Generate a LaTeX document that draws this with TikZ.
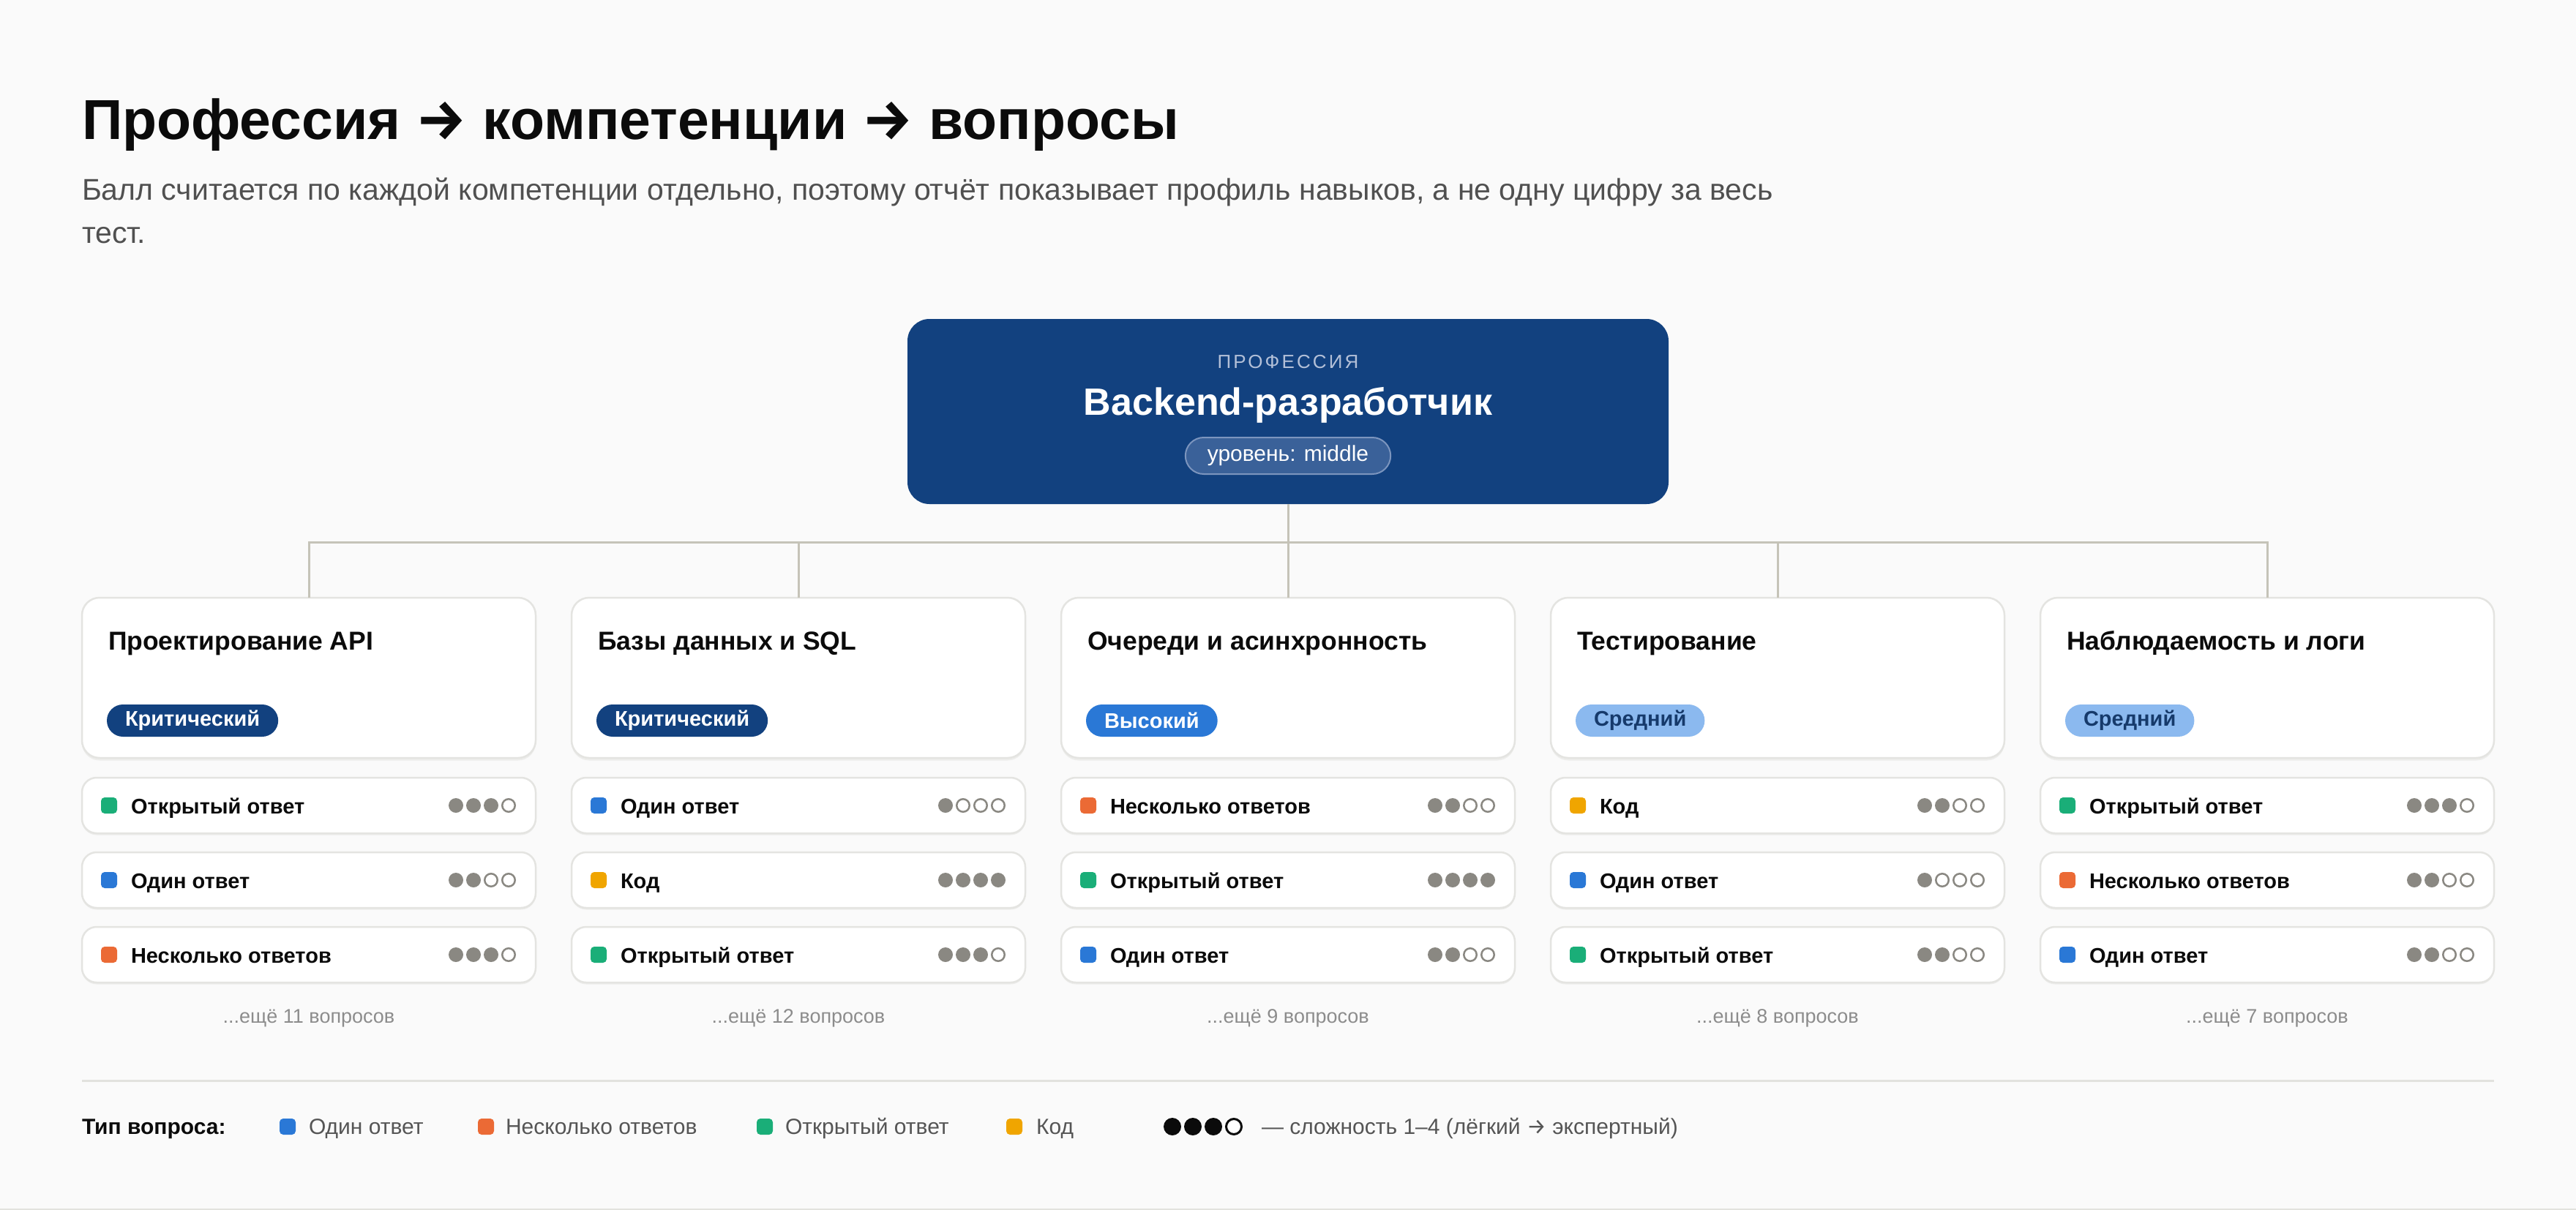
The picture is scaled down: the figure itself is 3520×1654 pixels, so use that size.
\documentclass[tikz,border=0pt]{standalone}
\usepackage{fontspec}
\setmainfont{Liberation Sans}
\newfontfamily\arrowfont{Fira Sans}
\usetikzlibrary{calc}
\definecolor{bgc}{HTML}{FAFAFA}
\definecolor{ink}{HTML}{0B0B0B}
\definecolor{subc}{HTML}{505050}
\definecolor{navy}{HTML}{12417F}
\definecolor{pillfill}{HTML}{3A6199}
\definecolor{pillline}{HTML}{7C95BE}
\definecolor{proflabel}{HTML}{B3C0D8}
\definecolor{connc}{HTML}{C5C3B8}
\definecolor{cardline}{HTML}{E4E4E1}
\definecolor{shadowc}{HTML}{EDEDEB}
\definecolor{bcrit}{HTML}{12417F}
\definecolor{bhigh}{HTML}{2A78D6}
\definecolor{bmid}{HTML}{8BB9EF}
\definecolor{bmidtext}{HTML}{163A6B}
\definecolor{cone}{HTML}{2A78D6}
\definecolor{cmulti}{HTML}{EB6A35}
\definecolor{copen}{HTML}{1AAE78}
\definecolor{ccode}{HTML}{F0A500}
\definecolor{dotgray}{HTML}{8A8882}
\definecolor{morec}{HTML}{8C8C8C}
\definecolor{sepc}{HTML}{E2E2DE}
\definecolor{legc}{HTML}{555555}
\newcommand\titlearrow{{\arrowfont\bfseries\fontsize{77}{77}\selectfont →}}
\newcommand\legarrow{{\arrowfont\fontsize{30}{30}\selectfont →}}
\begin{document}
\begin{tikzpicture}[x=1pt,y=-1pt,
  every node/.style={inner sep=0pt, outer sep=0pt},
  conn/.style={draw=connc, line width=3pt},
  profbox/.style={fill=navy, rounded corners=30pt, minimum width=1040pt, minimum height=253pt},
  pill/.style={fill=pillfill, draw=pillline, line width=2pt, rounded corners=25pt, minimum height=50pt, inner xsep=30pt, text=white, font=\fontsize{30}{36}\selectfont},
  card/.style={fill=white, draw=cardline, line width=2.5pt, rounded corners=24pt, minimum width=620pt, minimum height=219pt},
  cardtitle/.style={anchor=base west, text=ink, font=\fontsize{35.5}{42}\selectfont\bfseries},
  badge/.style={anchor=west, rounded corners=22pt, minimum height=44pt, inner xsep=25pt, font=\fontsize{29}{34}\selectfont\bfseries},
  rowbox/.style={fill=white, draw=cardline, line width=2.5pt, rounded corners=20pt, minimum width=620pt, minimum height=76pt},
  qsq/.style={rounded corners=5pt, minimum width=22pt, minimum height=22pt},
  rowtext/.style={anchor=base west, text=ink, font=\fontsize{29}{35}\selectfont\bfseries},
  dotfull/.style={fill=dotgray},
  dotempty/.style={draw=dotgray, fill=white, line width=2.5pt},
  moretext/.style={anchor=base, text=morec, font=\fontsize{27}{32}\selectfont},
  legtext/.style={anchor=base west, text=legc, font=\fontsize{30}{36}\selectfont},
  legbold/.style={anchor=base west, text=ink, font=\fontsize{30}{36}\selectfont\bfseries}
]
\useasboundingbox (0,0) rectangle (3520,1654);
\fill[bgc] (0,0) rectangle (3520,1654);
\draw[sepc, line width=2pt] (0,1653) -- (3520,1653);

% heading
\node[anchor=base west, text=ink, font=\fontsize{77}{92}\selectfont\bfseries] (title) at (112,190) {Профессия \titlearrow\ компетенции \titlearrow\ вопросы};
\node[anchor=base west, text=subc, font=\fontsize{41}{48}\selectfont] (sub1) at (112,273) {Балл считается по каждой компетенции отдельно, поэтому отчёт показывает профиль навыков, а не одну цифру за весь};
\node[anchor=base west, text=subc, font=\fontsize{41}{48}\selectfont] (sub2) at (112,332) {тест.};

% profession box
\node[profbox] (prof) at (1760,562.5) {};
\node[anchor=base, text=proflabel, font=\fontsize{26}{30}\selectfont\addfontfeature{LetterSpace=12}] (plabel) at (1760,503) {ПРОФЕССИЯ};
\node[anchor=base, text=white, font=\fontsize{52}{62}\selectfont\bfseries] (pname) at (1760,567) {Backend-разработчик};
\node[pill] (plevel) at (1760,623) {уровень: middle};

% competence cards
\foreach \i/\ttl/\bf/\bt/\btx/\more in {
  1/Проектирование API/bcrit/white/Критический/11,
  2/Базы данных и SQL/bcrit/white/Критический/12,
  3/Очереди и асинхронность/bhigh/white/Высокий/9,
  4/Тестирование/bmid/bmidtext/Средний/8,
  5/Наблюдаемость и логи/bmid/bmidtext/Средний/7}{
  \pgfmathsetmacro\cardx{422+(\i-1)*669}
  \pgfmathsetmacro\cardl{\cardx-310}
  \fill[shadowc, rounded corners=24pt] (\cardl,820) rectangle (\cardl+620,1039.5);
  \node[card] (c\i) at (\cardx,926.5) {};
  \node[cardtitle] (c\i-t) at (\cardl+36,888) {\ttl};
  \node[badge, fill=\bf, text=\bt] (c\i-b) at (\cardl+34,985) {\btx};
  \node[moretext] (c\i-m) at (\cardx,1398) {...ещё \more\ вопросов};
}

% questions
\foreach \i/\r/\qc/\qt/\lv in {
  1/1/copen/Открытый ответ/3, 1/2/cone/Один ответ/2, 1/3/cmulti/Несколько ответов/3,
  2/1/cone/Один ответ/1, 2/2/ccode/Код/4, 2/3/copen/Открытый ответ/3,
  3/1/cmulti/Несколько ответов/2, 3/2/copen/Открытый ответ/4, 3/3/cone/Один ответ/2,
  4/1/ccode/Код/2, 4/2/cone/Один ответ/1, 4/3/copen/Открытый ответ/2,
  5/1/copen/Открытый ответ/3, 5/2/cmulti/Несколько ответов/2, 5/3/cone/Один ответ/2}{
  \pgfmathsetmacro\cardx{422+(\i-1)*669}
  \pgfmathsetmacro\cardl{\cardx-310}
  \pgfmathsetmacro\rowy{1101+(\r-1)*102}
  \fill[shadowc, rounded corners=20pt] (\cardl,\rowy-36) rectangle (\cardl+620,\rowy+40.5);
  \node[rowbox] (c\i-r\r) at (\cardx,\rowy) {};
  \node[qsq, fill=\qc] (c\i-r\r-s) at (\cardl+37,\rowy) {};
  \node[rowtext] (c\i-r\r-t) at (\cardl+67,\rowy+11) {\qt};
  \foreach \k in {1,...,4}{
    \ifnum\k>\lv
      \path[dotempty] (\cardl+487+24*\k,\rowy) circle[radius=8.75];
    \else
      \path[dotfull] (\cardl+487+24*\k,\rowy) circle[radius=10];
    \fi
  }
}

% connectors
\coordinate (bus) at (1760,741);
\draw[conn] (prof.south) -- (bus);
\draw[conn] (c1.north) |- (bus) -| (c5.north);
\draw[conn] (c2.north) -- (c2.north |- bus);
\draw[conn] (c3.north) -- (c3.north |- bus);
\draw[conn] (c4.north) -- (c4.north |- bus);

% legend
\draw[sepc, line width=3pt] (112,1477) -- (3408,1477);
\node[legbold] (lgt) at (112,1550) {Тип вопроса:};
\node[qsq, fill=cone] (lg1s) at (393,1540) {};
\node[legtext] (lg1) at (422,1550) {Один ответ};
\node[qsq, fill=cmulti] (lg2s) at (664,1540) {};
\node[legtext] (lg2) at (691,1550) {Несколько ответов};
\node[qsq, fill=copen] (lg3s) at (1045,1540) {};
\node[legtext] (lg3) at (1073,1550) {Открытый ответ};
\node[qsq, fill=ccode] (lg4s) at (1386,1540) {};
\node[legtext] (lg4) at (1416,1550) {Код};
\fill[ink] (1602,1540) circle[radius=12];
\fill[ink] (1630,1540) circle[radius=12];
\fill[ink] (1658,1540) circle[radius=12];
\draw[ink, line width=3pt, fill=white] (1686,1540) circle[radius=10.5];
\node[legtext] (lg5) at (1724,1550) {— сложность 1–4 (лёгкий \legarrow\ экспертный)};
\end{tikzpicture}
\end{document}
